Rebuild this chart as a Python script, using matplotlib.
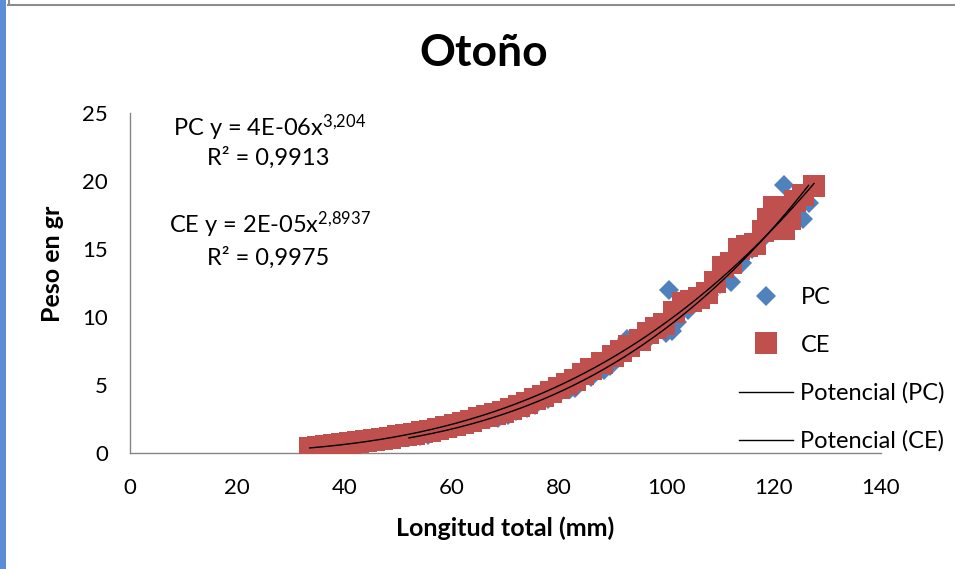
import numpy as np
import matplotlib
matplotlib.use("Agg")
import matplotlib.pyplot as plt
from matplotlib.lines import Line2D
from matplotlib.patches import Rectangle

plt.rcParams['font.family'] = ['Lato', 'DejaVu Sans']
plt.rcParams['mathtext.fontset'] = 'custom'
plt.rcParams['mathtext.rm'] = 'Lato'
plt.rcParams['mathtext.it'] = 'Lato'

# ---- data ----
pc_x = [52, 54, 55.5, 57, 59, 61, 63, 65, 67, 68.6, 70.5, 72, 74, 75.5, 78, 80, 82, 83, 86,
        88.4, 89.5, 91, 92.7, 94.5, 96, 97, 100, 100.5, 101, 102, 104, 106, 108, 110, 112,
        114, 116, 118, 120, 122, 124, 125.5, 126.5]
pc_y = [1.15, 1.25, 1.35, 1.55, 1.70, 1.90, 2.10, 2.30, 2.50, 2.60, 2.80, 3.10, 3.30, 3.50,
        4.00, 4.40, 4.70, 4.80, 5.60, 6.10, 6.40, 7.00, 8.40, 8.20, 8.50, 8.50, 8.80, 12.00,
        9.00, 9.60, 10.50, 11.20, 11.60, 12.40, 12.60, 14.00, 15.00, 15.80, 16.80, 19.70,
        17.50, 17.20, 18.40]

ce_x = [33.5, 35, 36.5, 38, 39.5, 41, 42.5, 44, 45.5, 47, 48.5, 50, 51.5, 53, 54.5, 56, 57.5,
        59, 60.5, 62, 63.5, 65, 66.5, 68, 69.5, 71, 72.5, 74, 75.5, 77, 78.5, 80, 81.5, 83,
        84.5, 86, 88, 90, 91.5, 93, 95, 96.5, 98, 99.5, 101.5, 103, 104.5, 106, 107.5, 109,
        110.5, 112, 113.5, 115, 116.5, 118, 119, 120, 121, 122, 123, 124, 125.5, 127.5]
ce_y = [0.40, 0.45, 0.50, 0.58, 0.65, 0.72, 0.80, 0.88, 0.95, 1.05, 1.12, 1.22, 1.32, 1.42,
        1.52, 1.65, 1.78, 1.92, 2.05, 2.20, 2.35, 2.55, 2.70, 2.85, 3.05, 3.25, 3.45, 3.70,
        3.95, 4.20, 4.45, 4.75, 5.05, 5.40, 5.80, 6.20, 6.60, 7.10, 7.50, 7.90, 8.30, 8.80,
        9.20, 9.50, 10.40, 11.00, 11.20, 11.40, 11.80, 12.60, 13.70, 14.00, 15.00, 15.20,
        15.40, 16.30, 17.20, 18.10, 18.00, 16.50, 17.20, 18.50, 19.00, 19.60]

series_labels = ['PC', 'CE']
trend_labels = ['Potencial (PC)', 'Potencial (CE)']
x_ticks = [0, 20, 40, 60, 80, 100, 120, 140]
y_ticks = [0, 5, 10, 15, 20, 25]
title = 'Otoño'
xlabel = 'Longitud total (mm)'
ylabel = 'Peso en gr'
eq_pc = ('PC y = 4E-06x', '3,204', 'R² = 0,9913')
eq_ce = ('CE y = 2E-05x', '2,8937', 'R² = 0,9975')

BLUE = '#4F81BD'
RED = '#C0504D'

W, H = 955, 569
fig = plt.figure(figsize=(W / 100, H / 100), dpi=100)

# screenshot frame decorations
fig.patches.append(Rectangle((0, 0), 6 / W, 1, transform=fig.transFigure,
                             facecolor='#5B8ED6', edgecolor='none'))
fig.lines.append(Line2D([8 / W, 1], [1 - 5 / H, 1 - 5 / H], transform=fig.transFigure,
                        color='#8C8C8C', lw=1.5))
fig.lines.append(Line2D([9 / W, 9 / W], [1, 1 - 5 / H], transform=fig.transFigure,
                        color='#8C8C8C', lw=1.5))

ax = fig.add_axes([130 / W, 1 - 453 / H, (881 - 130) / W, (453 - 113) / H])

ax.plot(pc_x, pc_y, linestyle='none', marker='D', markersize=10.5, color=BLUE,
        markeredgewidth=0, label=series_labels[0], zorder=2)
ax.plot(ce_x, ce_y, linestyle='none', marker='s', markersize=15.5, color=RED,
        markeredgewidth=0, label=series_labels[1], zorder=3)

# power trendlines fitted from the data
for xs, ys, lab in [(pc_x, pc_y, trend_labels[0]), (ce_x, ce_y, trend_labels[1])]:
    xs = np.asarray(xs, float)
    ys = np.asarray(ys, float)
    b, a = np.polyfit(np.log(xs), np.log(ys), 1)
    xx = np.linspace(xs.min(), xs.max(), 200)
    ax.plot(xx, np.exp(a) * xx ** b, color='black', lw=1.0, label=lab, zorder=4)

ax.set_xlim(0, 140)
ax.set_ylim(0, 25)
ax.set_xticks(x_ticks)
ax.set_yticks(y_ticks)
for s in ['top', 'right']:
    ax.spines[s].set_visible(False)
for s in ['left', 'bottom']:
    ax.spines[s].set_color('#868686')
    ax.spines[s].set_linewidth(1.0)
ax.tick_params(axis='both', length=0, labelsize=16, colors='#000000')
ax.tick_params(axis='x', pad=18)
ax.tick_params(axis='y', pad=16)
ax.patch.set_alpha(0)

fig.text(484 / W, 1 - 53 / H, title, ha='center', va='center', fontsize=32,
         fontweight='bold')
fig.text(505 / W, 1 - 528 / H, xlabel, ha='center', va='center', fontsize=18,
         fontweight='bold')
fig.text(53 / W, 1 - 264 / H, ylabel, ha='center', va='center', fontsize=18,
         fontweight='bold', rotation=90)

for (eq, ex, r2), y1, y2 in [(eq_pc, 128, 158), (eq_ce, 225, 258)]:
    fig.text(270 / W, 1 - y1 / H, eq + r'$^{\mathrm{' + ex.replace(',', '{,}') + '}}$',
             ha='center', va='center', fontsize=17)
    fig.text(268 / W, 1 - y2 / H, r2, ha='center', va='center', fontsize=17)

leg = fig.legend(loc='upper left', bbox_to_anchor=(739 / W, 1 - 287 / H),
                 frameon=False, fontsize=17, numpoints=1, handlelength=2.3,
                 handletextpad=0.3, labelspacing=1.13, borderpad=0, borderaxespad=0)

fig.savefig('out.png', dpi=100)
